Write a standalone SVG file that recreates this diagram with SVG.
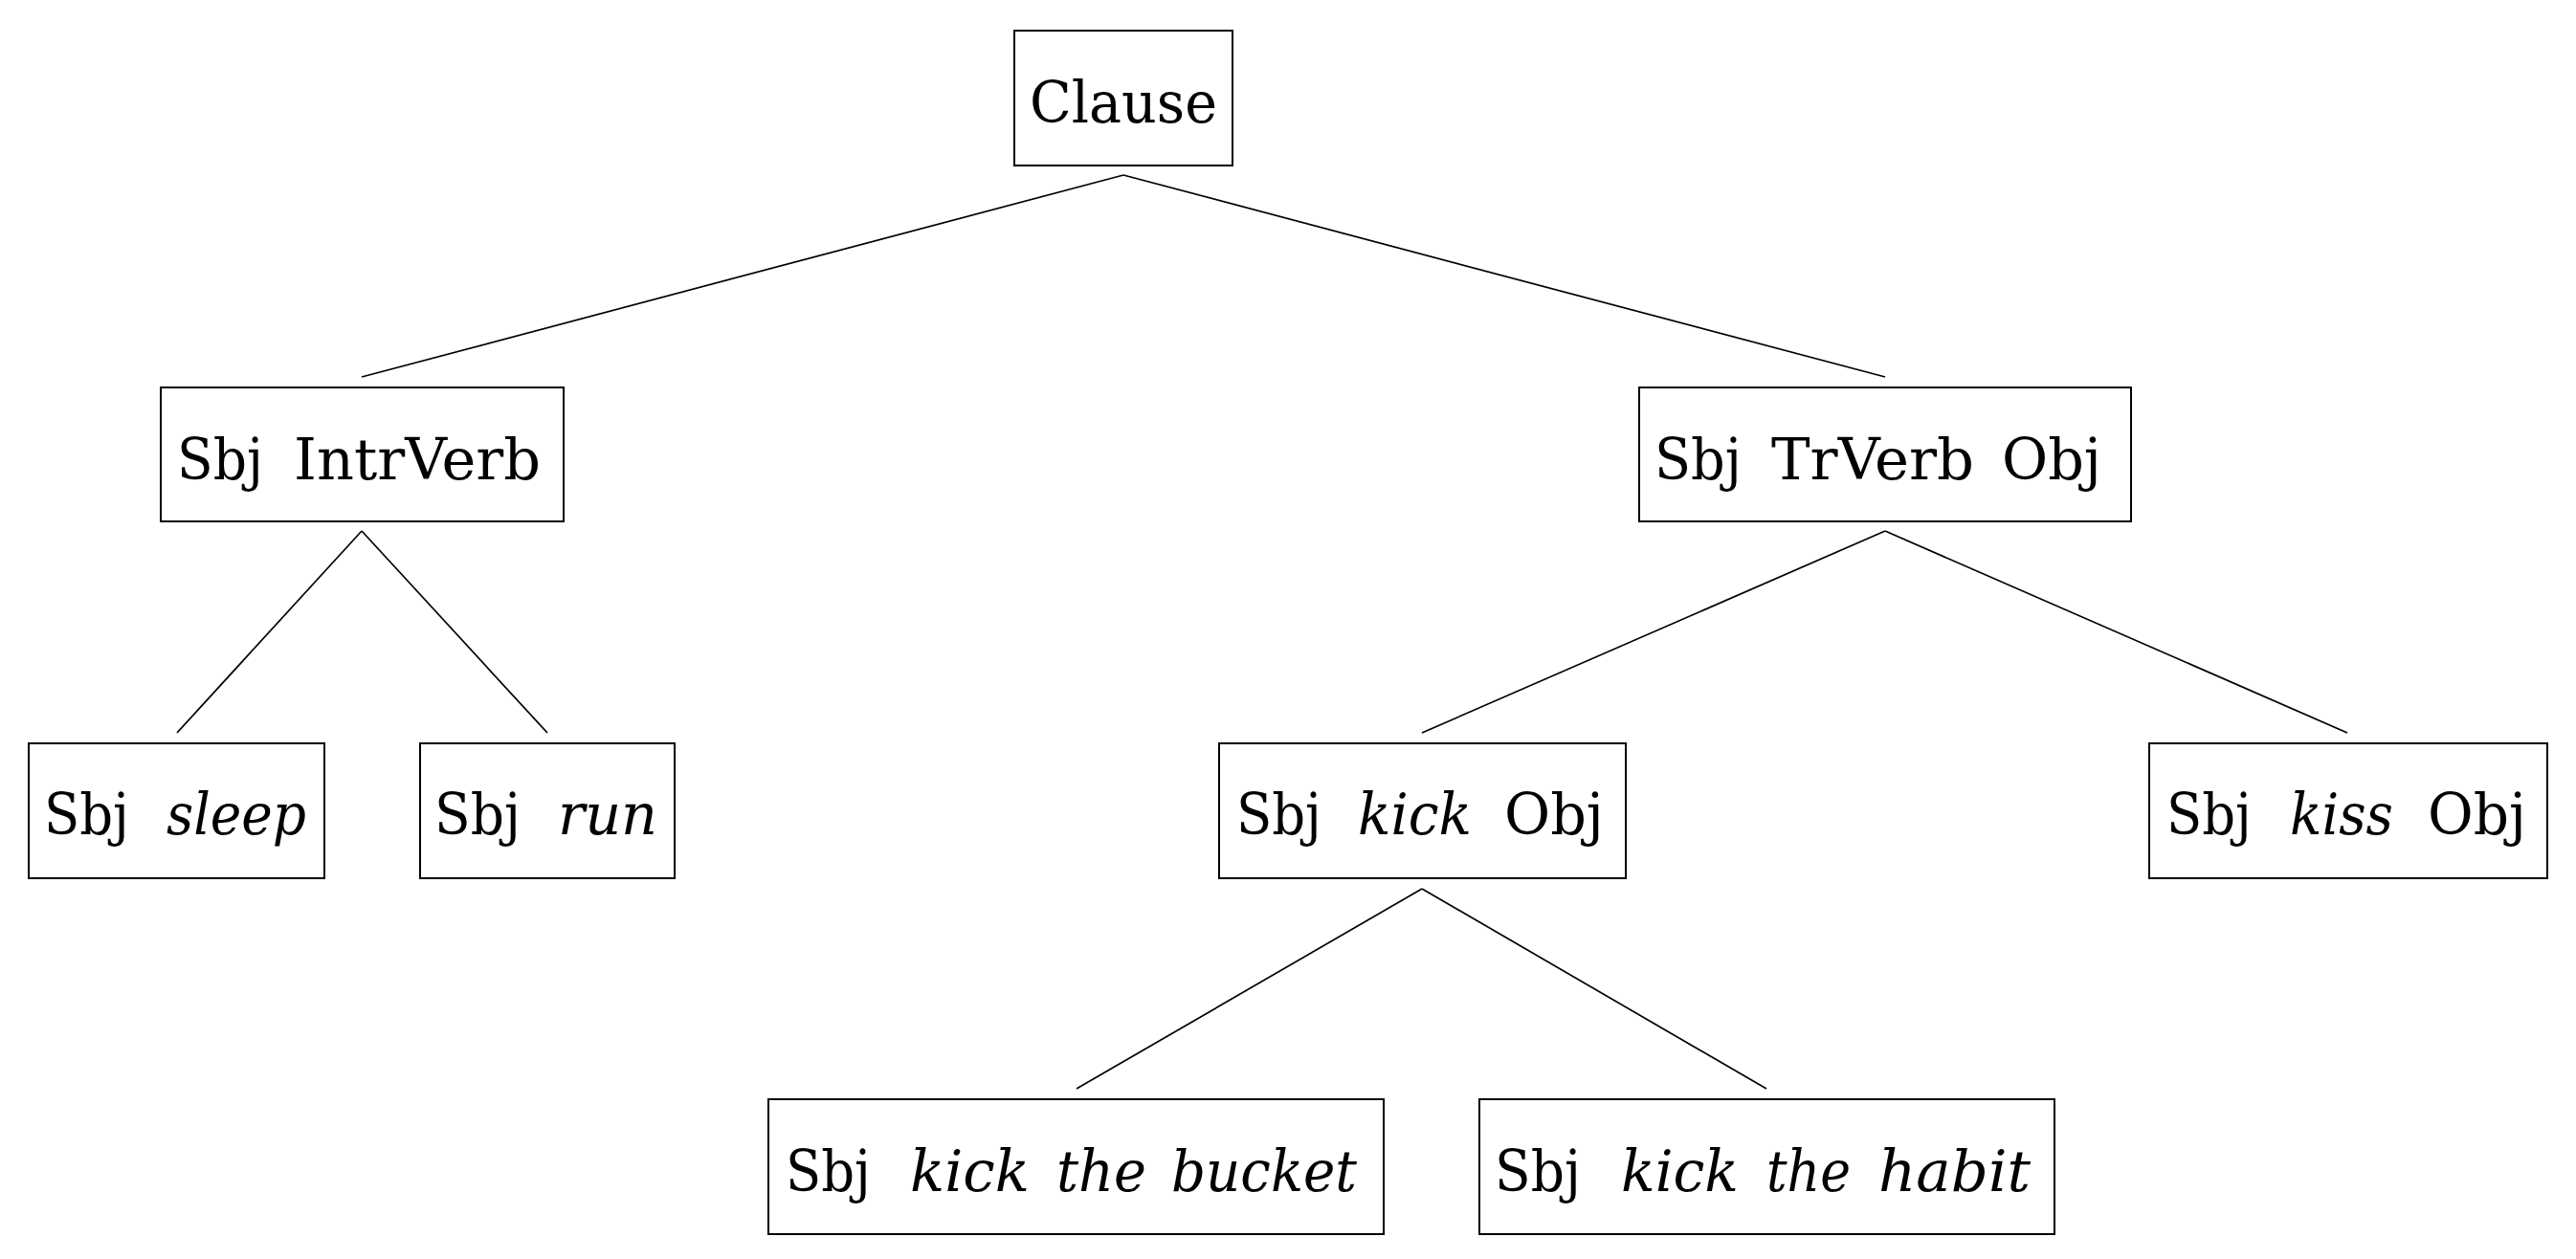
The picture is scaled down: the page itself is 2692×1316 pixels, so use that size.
<svg xmlns="http://www.w3.org/2000/svg" width="2692" height="1316" viewBox="0 0 2692 1316">
<style>
rect.box{fill:#fff;stroke:#000;stroke-width:2}
text{font-family:"DejaVu Serif","Liberation Serif",serif;font-size:59px;fill:#000}
tspan{}
.i{font-style:italic}
#edges line{stroke:#000;stroke-width:1.7}
</style>
<rect width="2692" height="1316" fill="#fff"/>
<g id="edges">
<line x1="1174" y1="183" x2="378" y2="394"/>
<line x1="1174" y1="183" x2="1970" y2="394"/>
<line x1="378" y1="555" x2="185" y2="766"/>
<line x1="378" y1="555" x2="572" y2="766"/>
<line x1="1970" y1="555" x2="1486" y2="766"/>
<line x1="1970" y1="555" x2="2453" y2="766"/>
<line x1="1486" y1="929" x2="1125" y2="1138"/>
<line x1="1486" y1="929" x2="1846" y2="1138"/>
</g>
<g id="clause"><rect class="box" x="1060" y="32" width="228" height="141"/><text x="1076" y="128" textLength="196" lengthAdjust="spacingAndGlyphs">Clause</text></g>
<g id="intr"><rect class="box" x="168" y="405" width="421" height="140"/>
<text x="185" y="501" textLength="90" lengthAdjust="spacingAndGlyphs">Sbj</text>
<text x="307" y="501" textLength="258" lengthAdjust="spacingAndGlyphs">IntrVerb</text></g>
<g id="tr"><rect class="box" x="1713" y="405" width="514" height="140"/>
<text x="1729" y="501" textLength="91" lengthAdjust="spacingAndGlyphs">Sbj</text>
<text x="1851" y="501" textLength="212" lengthAdjust="spacingAndGlyphs">TrVerb</text>
<text x="2092" y="501" textLength="104" lengthAdjust="spacingAndGlyphs">Obj</text></g>
<g id="sleep"><rect class="box" x="30" y="777" width="309" height="141"/>
<text x="46" y="872" textLength="89" lengthAdjust="spacingAndGlyphs">Sbj</text>
<text x="174" y="872" class="i" textLength="146" lengthAdjust="spacingAndGlyphs">sleep</text></g>
<g id="run"><rect class="box" x="439" y="777" width="266" height="141"/>
<text x="454" y="872" textLength="90" lengthAdjust="spacingAndGlyphs">Sbj</text>
<text x="583" y="872" class="i" textLength="104" lengthAdjust="spacingAndGlyphs">run</text></g>
<g id="kick"><rect class="box" x="1274" y="777" width="425" height="141"/>
<text x="1292" y="872" textLength="89" lengthAdjust="spacingAndGlyphs">Sbj</text>
<text x="1419" y="872" class="i" textLength="119" lengthAdjust="spacingAndGlyphs">kick</text>
<text x="1572" y="872" textLength="104" lengthAdjust="spacingAndGlyphs">Obj</text></g>
<g id="kiss"><rect class="box" x="2246" y="777" width="416" height="141"/>
<text x="2264" y="872" textLength="89" lengthAdjust="spacingAndGlyphs">Sbj</text>
<text x="2393" y="872" class="i" textLength="108" lengthAdjust="spacingAndGlyphs">kiss</text>
<text x="2537" y="872" textLength="103" lengthAdjust="spacingAndGlyphs">Obj</text></g>
<g id="bucket"><rect class="box" x="803" y="1149" width="643" height="141"/>
<text x="821" y="1245" textLength="89" lengthAdjust="spacingAndGlyphs">Sbj</text>
<text x="951" y="1245" class="i" textLength="125" lengthAdjust="spacingAndGlyphs">kick</text>
<text x="1104" y="1245" class="i" textLength="94" lengthAdjust="spacingAndGlyphs">the</text>
<text x="1224" y="1245" class="i" textLength="194" lengthAdjust="spacingAndGlyphs">bucket</text></g>
<g id="habit"><rect class="box" x="1546" y="1149" width="601" height="141"/>
<text x="1562" y="1245" textLength="90" lengthAdjust="spacingAndGlyphs">Sbj</text>
<text x="1694" y="1245" class="i" textLength="123" lengthAdjust="spacingAndGlyphs">kick</text>
<text x="1846" y="1245" class="i" textLength="88" lengthAdjust="spacingAndGlyphs">the</text>
<text x="1963" y="1245" class="i" textLength="159" lengthAdjust="spacingAndGlyphs">habit</text></g>
</svg>
